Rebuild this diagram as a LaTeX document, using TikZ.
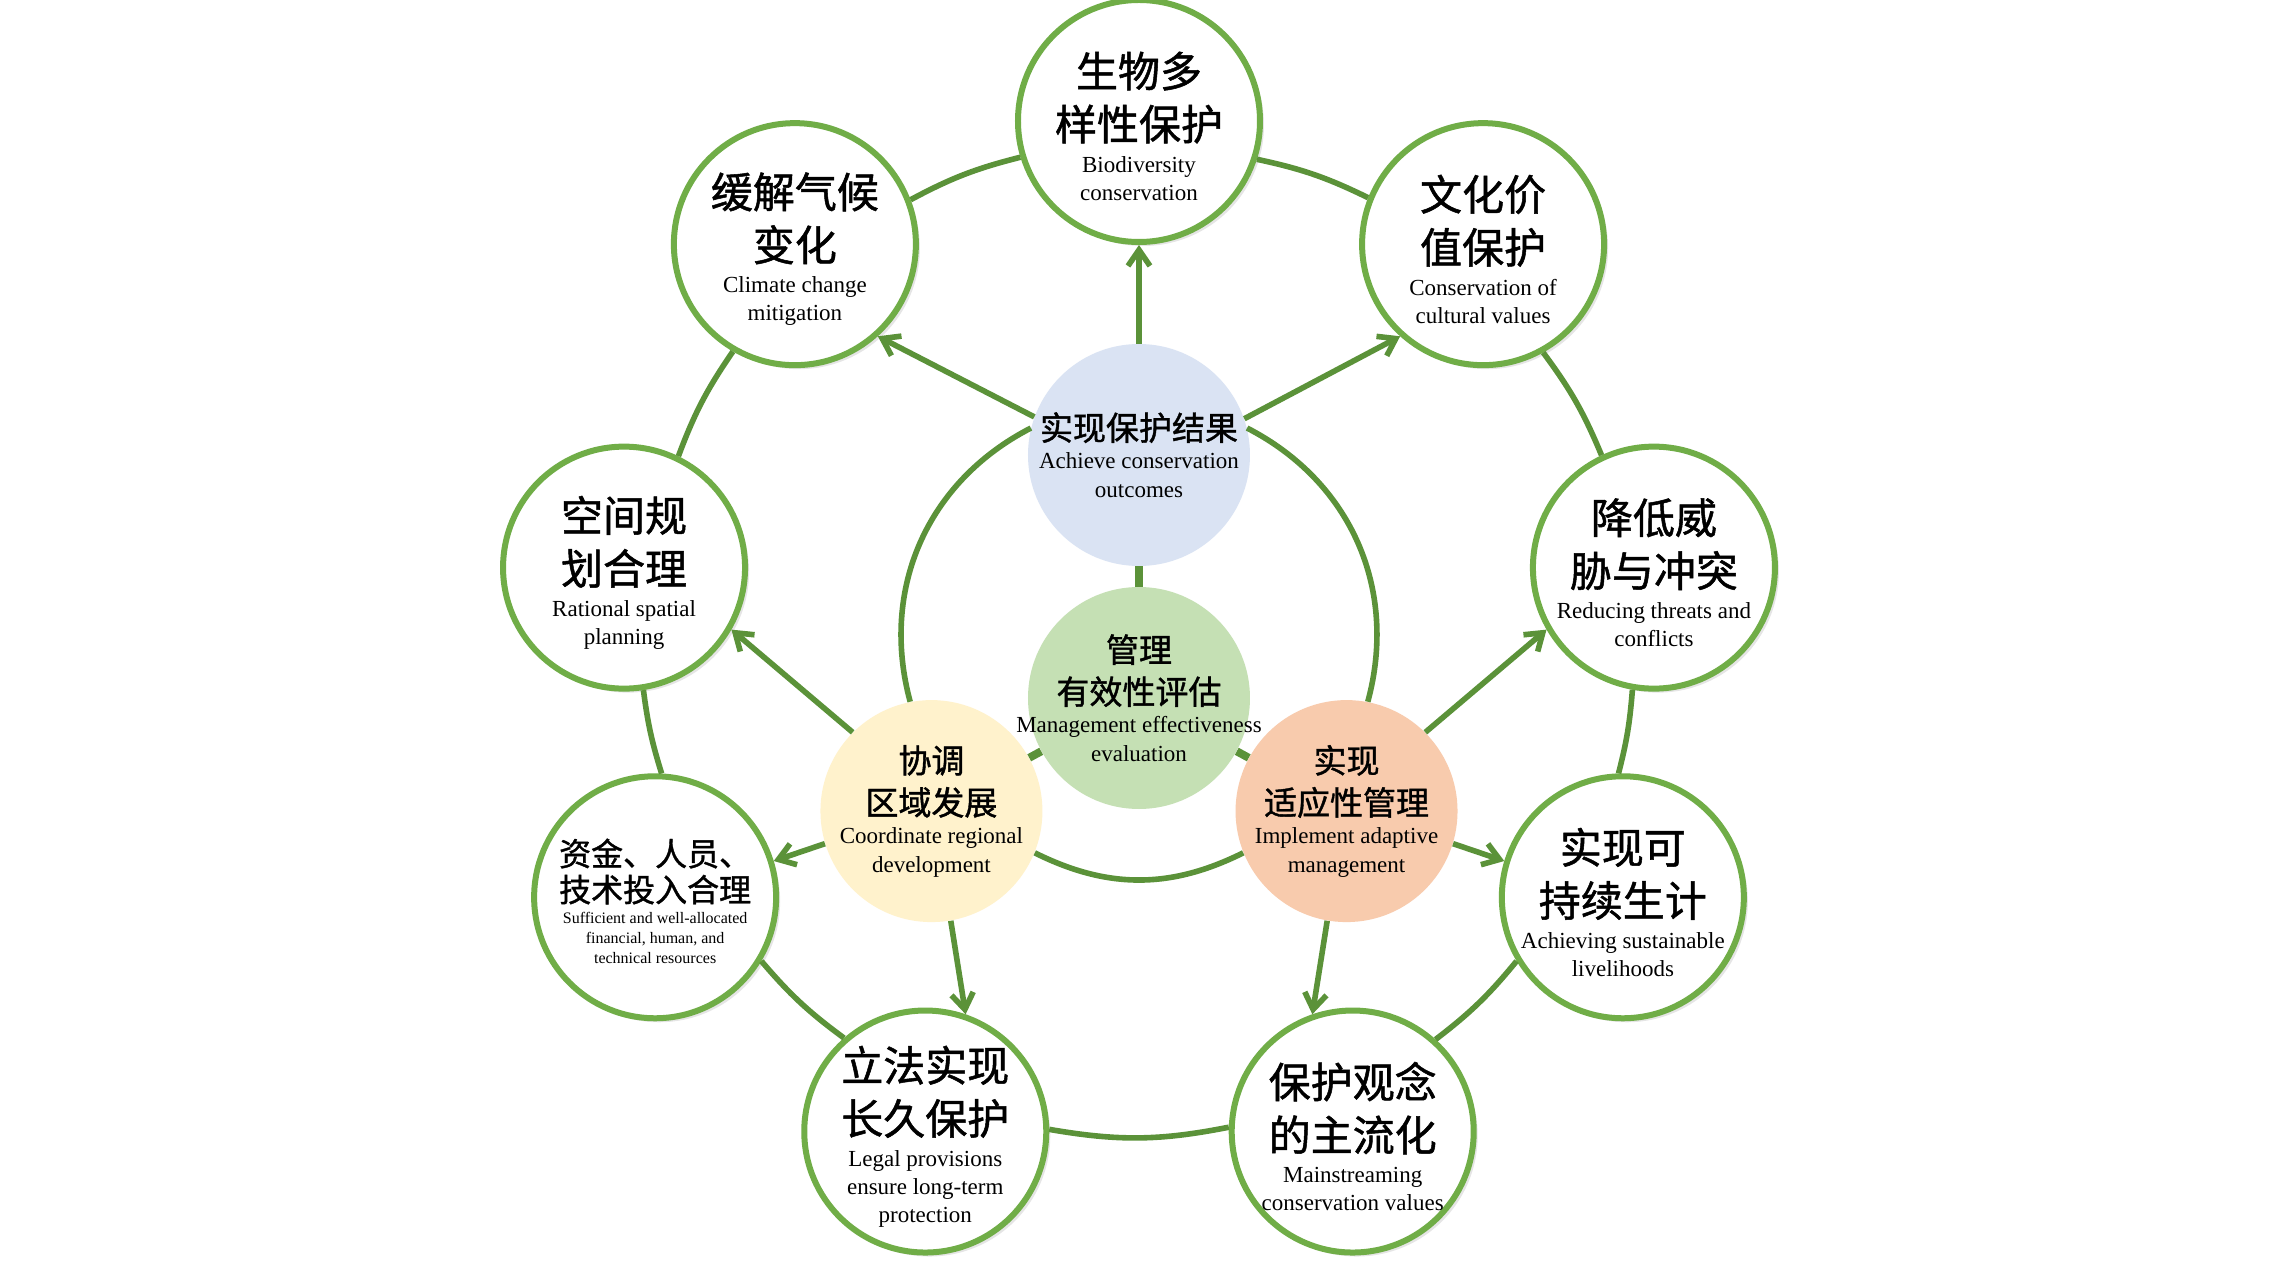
\documentclass[tikz,border=0pt]{standalone}
\usepackage{fontspec}
\setmainfont{Liberation Serif}
\newfontfamily\cjk{Noto Sans CJK SC}[FakeBold=1.2]
\usetikzlibrary{arrows.meta,shadows}

\definecolor{ringgreen}{HTML}{70AD47}
\definecolor{linkgreen}{HTML}{5B9239}
\definecolor{outcomeblue}{HTML}{DAE3F3}
\definecolor{evalgreen}{HTML}{C5E0B4}
\definecolor{coordyellow}{HTML}{FFF2CC}
\definecolor{adaptorange}{HTML}{F8CBAD}

% text of an outer goal circle: Chinese lines, then English lines
\newcommand{\goal}[2]{\makebox[0pt]{\parbox{120pt}{\centering
  \vspace*{5pt}
  {\cjk\fontsize{21}{26.5}\selectfont #1\par}\vspace{2pt}
  {\fontsize{11.5}{14}\selectfont #2\par}}}}
\newcommand{\goalsmall}[2]{\makebox[0pt]{\parbox{120pt}{\centering
  \vspace*{4pt}
  {\cjk\fontsize{16}{18}\selectfont #1\par}\vspace{1pt}
  {\fontsize{8}{10}\selectfont #2\par}}}}
% text of an inner circle
\newcommand{\core}[2]{\makebox[0pt]{\parbox{150pt}{\centering
  {\cjk\fontsize{16.5}{21}\selectfont #1\par}
  {\fontsize{11.5}{14.3}\selectfont #2\par}}}}

\begin{document}
\begin{tikzpicture}[x=0.5pt,y=0.5pt,
    goal/.style={circle,draw=ringgreen,line width=3pt,fill=white,
      minimum size=121pt,inner sep=0pt,
      drop shadow={shadow xshift=2pt,shadow yshift=-2pt,opacity=0.2}},
    core/.style={circle,minimum size=111pt,inner sep=0pt},
    ring/.style={draw=linkgreen,line width=2.8pt},
    push/.style={ring,-{Straight Barb[length=8pt,width=11pt]}},
    bar/.style={draw=linkgreen,line width=4pt}]
  \fill[white] (-1139,-640) rectangle (1137,640);
  \useasboundingbox (-1139,-640) rectangle (1137,640);
  \coordinate (hub) at (0,0);

  % outer goals
  \node[goal] (bio) at (90:519) {\goal{生物多\\样性保护}{Biodiversity\\conservation}};
  \node[goal] (culture) at (49:524.5) {\goal{文化价\\值保护}{Conservation of\\cultural values}};
  \node[goal] (threats) at (8:520) {\goal{降低威\\胁与冲突}{Reducing threats and\\conflicts}};
  \node[goal] (livelihoods) at (-28:548) {\goal{实现可\\持续生计}{Achieving sustainable\\livelihoods}};
  \node[goal] (mainstream) at (-66.5:536) {\goal{保护观念\\的主流化}{Mainstreaming\\conservation values}};
  \node[goal] (legal) at (-113.5:536) {\goal{立法实现\\长久保护}{Legal provisions\\ensure long-term\\protection}};
  \node[goal] (funding) at (-152:548) {\goalsmall{资金、人员、\\技术投入合理}{Sufficient and well-allocated\\financial, human, and\\technical resources}};
  \node[goal] (spatial) at (172:520) {\goal{空间规\\划合理}{Rational spatial\\planning}};
  \node[goal] (climate) at (131:524.5) {\goal{缓解气候\\变化}{Climate change\\mitigation}};

  % inner circles
  \node[core,fill=outcomeblue] (outcome) at (0,185) {\core{实现保护结果}{Achieve conservation\\outcomes}};
  \node[core,fill=evalgreen] (eval) at (0,-58) {\core{管理\\有效性评估}{Management effectiveness\\evaluation}};
  \node[core,fill=coordyellow] (coord) at (-140.5:269) {\core{协调\\区域发展}{Coordinate regional\\development}};
  \node[core,fill=adaptorange] (adapt) at (-39.5:269) {\core{实现\\适应性管理}{Implement adaptive\\management}};

  % outer ring
  \draw[ring]
    (bio.342.9) edge[bend left=7] (culture.158.6)
    (culture.299.4) edge[bend left=7] (threats.115.5)
    (threats.260.5) edge[bend left=5] (livelihoods.92.5)
    (livelihoods.211.5) edge[bend left=6.6] (mainstream.48.4)
    (mainstream.178.6) edge[bend left=10.5] (legal.1.4)
    (legal.131.6) edge[bend left=6.6] (funding.-31.5)
    (funding.87.5) edge[bend left=5] (spatial.279.5)
    (spatial.64.5) edge[bend left=7] (climate.240.6)
    (climate.21.4) edge[bend left=7] (bio.197.1);

  % inner ring
  \draw[ring]
    (outcome.166) edge[bend right=39] (coord.101)
    (coord.-22) edge[bend right=26.5] (adapt.202)
    (adapt.79) edge[bend right=39] (outcome.14);

  \draw[bar] (outcome) -- (eval);
  \draw[bar] (eval) -- (coord);
  \draw[bar] (eval) -- (adapt);

  % arrows to the goals
  \draw[push] (outcome.north) -- (bio.south);
  \draw[push] (outcome.160.6) -- (climate.312);
  \draw[push] (outcome.19.4) -- (culture.228);
  \draw[push] (coord.135) -- (spatial.-30);
  \draw[push] (coord.197) -- (funding.17);
  \draw[push] (coord.-80) -- (legal.71);
  \draw[push] (adapt.45) -- (threats.210);
  \draw[push] (adapt.-17) -- (livelihoods.163);
  \draw[push] (adapt.-100) -- (mainstream.109);
\end{tikzpicture}
\end{document}
